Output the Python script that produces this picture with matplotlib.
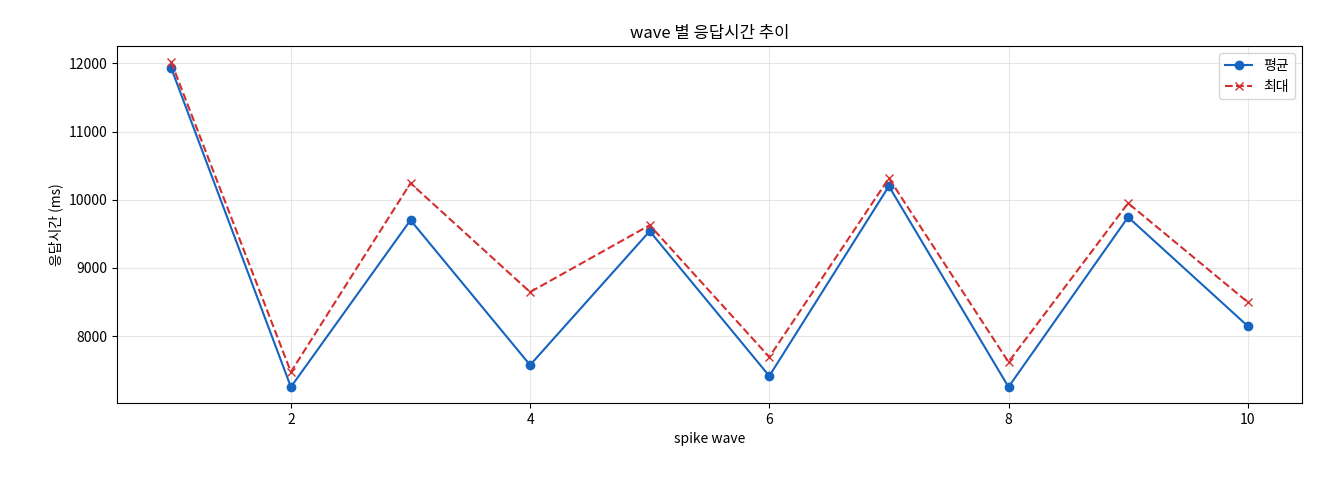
import matplotlib
matplotlib.use('Agg')
import matplotlib.pyplot as plt

plt.rcParams['font.family'] = ['Noto Sans CJK KR', 'DejaVu Sans']

waves = [1, 2, 3, 4, 5, 6, 7, 8, 9, 10]
avg_ms = [11927, 7253, 9700, 7575, 9538, 7414, 10198, 7253, 9744, 8147]
max_ms = [12015, 7473, 10242, 8645, 9626, 7692, 10315, 7619, 9949, 8498]

fig, ax = plt.subplots(figsize=(13.2, 4.8), dpi=100)
ax.plot(waves, avg_ms, marker='o', color='#1565c0', linewidth=1.5, markersize=6, label='평균')
ax.plot(waves, max_ms, marker='x', linestyle='--', color='#d32f2f', linewidth=1.5, markersize=6, label='최대')
ax.set_title('wave 별 응답시간 추이')
ax.set_xlabel('spike wave')
ax.set_ylabel('응답시간 (ms)')
ax.grid(True, alpha=0.3)
ax.legend(loc='upper right')
fig.subplots_adjust(left=0.089, right=0.986, top=0.904, bottom=0.16)
fig.savefig('out.png')
